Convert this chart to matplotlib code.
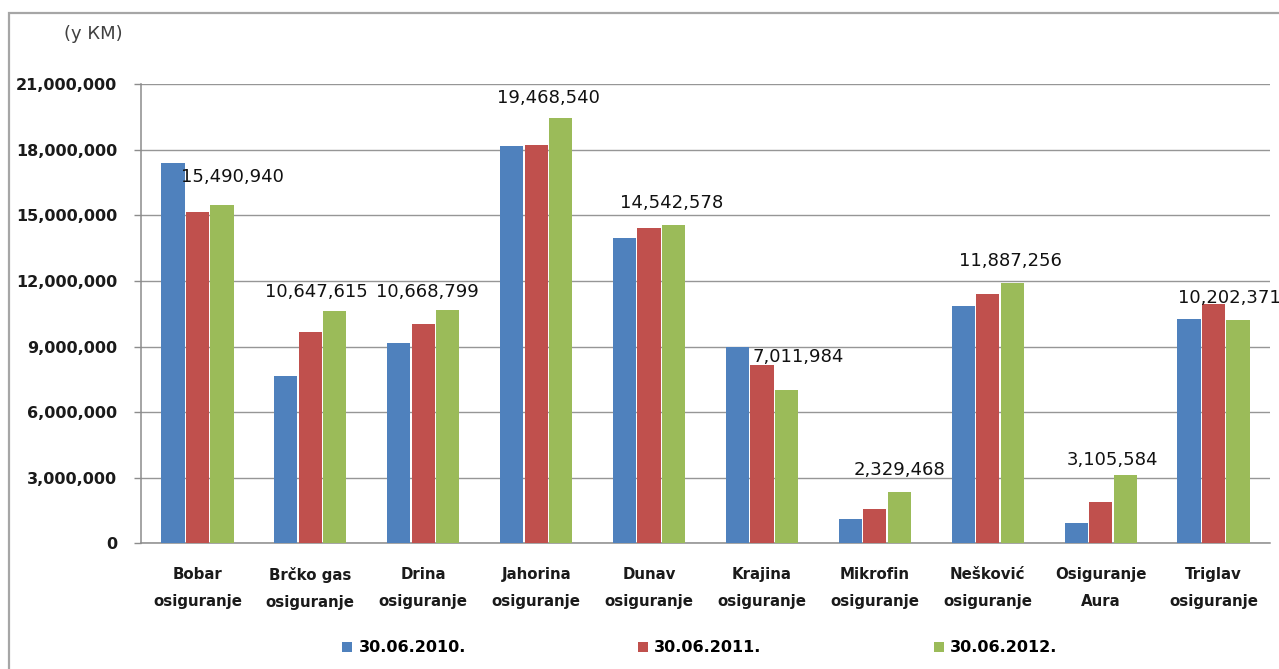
import numpy as np
import matplotlib
matplotlib.use('Agg')
import matplotlib.pyplot as plt
from matplotlib.patches import Rectangle, Patch
from matplotlib.ticker import FuncFormatter

plt.rcParams['font.family'] = ['DejaVu Sans']

# categories (two-line labels as in the chart)
companies = ['Bobar\nosiguranje', 'Brčko gas\nosiguranje', 'Drina\nosiguranje',
             'Jahorina\nosiguranje', 'Dunav\nosiguranje', 'Krajina\nosiguranje',
             'Mikrofin\nosiguranje', 'Nešković\nosiguranje', 'Osiguranje\nAura',
             'Triglav\nosiguranje']
series_names = ['30.06.2010.', '30.06.2011.', '30.06.2012.']

# values in KM (2010 and 2011, 2012 from data labels)
vals_2010 = [17380000, 7660000, 9160000, 18170000, 13950000,
             8980000, 1130000, 10870000, 950000, 10270000]
vals_2011 = [15140000, 9690000, 10040000, 18230000, 14420000,
             8150000, 1590000, 11400000, 1890000, 10930000]
vals_2012 = [15490940, 10647615, 10668799, 19468540, 14542578,
             7011984, 2329468, 11887256, 3105584, 10202371]

y_ticks = [0, 3000000, 6000000, 9000000, 12000000, 15000000, 18000000, 21000000]

colors = ['#4F81BD', '#C0504D', '#9BBB59']

# label nudges in pixels (dx, dy above green bar top), to mimic manual placement
label_dx = [10, -18, -20, -12, -2, 12, 0, -1.5, -13, -9]
label_dy = [28, 19, 18, 20, 22, 33, 22, 22, 15, 22]

fig = plt.figure(figsize=(12.79, 6.69), dpi=100)
ax = fig.add_axes([141 / 1279, 1 - 543.3 / 669, 1129 / 1279, (543.3 - 84.3) / 669])

x = np.arange(len(companies))
w = 0.205
step = 0.217
all_vals = [vals_2010, vals_2011, vals_2012]
for i, (v, c) in enumerate(zip(all_vals, colors)):
    ax.bar(x + (i - 1) * step, v, width=w, color=c, zorder=3, edgecolor='none')

# data labels for the last series
px = 72 / 100
for i, v in enumerate(vals_2012):
    ax.annotate(f'{v:,}', xy=(x[i] + step, v),
                xytext=(label_dx[i] * px, label_dy[i] * px), textcoords='offset points',
                ha='center', va='center', fontsize=13, color='#111111',
                annotation_clip=False, zorder=5)

ax.set_xlim(-0.5, len(companies) - 0.5)
ax.set_ylim(0, 21000000)
ax.set_yticks(y_ticks)
ax.yaxis.set_major_formatter(FuncFormatter(lambda v, p: f'{int(v):,}'))
ax.yaxis.grid(True, color='#969696', linewidth=1.0, zorder=0)
ax.set_axisbelow(True)

ax.set_xticks(x)
ax.set_xticklabels(companies, fontsize=10.8, fontweight='bold', color='#1a1a1a',
                   linespacing=2.0)
ax.tick_params(axis='x', length=0, pad=17)
ax.tick_params(axis='y', length=5, width=1, color='#8C8C8C', pad=12,
               labelsize=11.5, labelcolor='#1a1a1a')
for lab in ax.get_yticklabels():
    lab.set_fontweight('bold')

for s in ['top', 'right']:
    ax.spines[s].set_visible(False)
ax.spines['left'].set_color('#8C8C8C')
ax.spines['bottom'].set_color('#8C8C8C')
ax.spines['left'].set_linewidth(1.1)
ax.spines['bottom'].set_linewidth(1.1)

# unit label
fig.text(123 / 1279, 1 - 34 / 669, '(у КМ)', ha='right', va='center',
         fontsize=13, color='#404040')

# outer frame of the chart area (runs off the right and bottom edges)
fig.patches.append(Rectangle((9 / 1279, -0.1), 1.2, 1.1 - 13.5 / 669,
                             transform=fig.transFigure, fill=False,
                             edgecolor='#A6A6A6', linewidth=1.6))

handles = [Patch(facecolor=c, edgecolor='none') for c in colors]
fig.legend(handles, series_names, loc='center', bbox_to_anchor=(700 / 1279, 1 - 648 / 669),
           ncol=3, frameon=False, handlelength=0.6, handleheight=0.6,
           handletextpad=0.4, columnspacing=10.8,
           prop={'size': 11.5, 'weight': 'bold'})

fig.savefig('out.png', dpi=100)
